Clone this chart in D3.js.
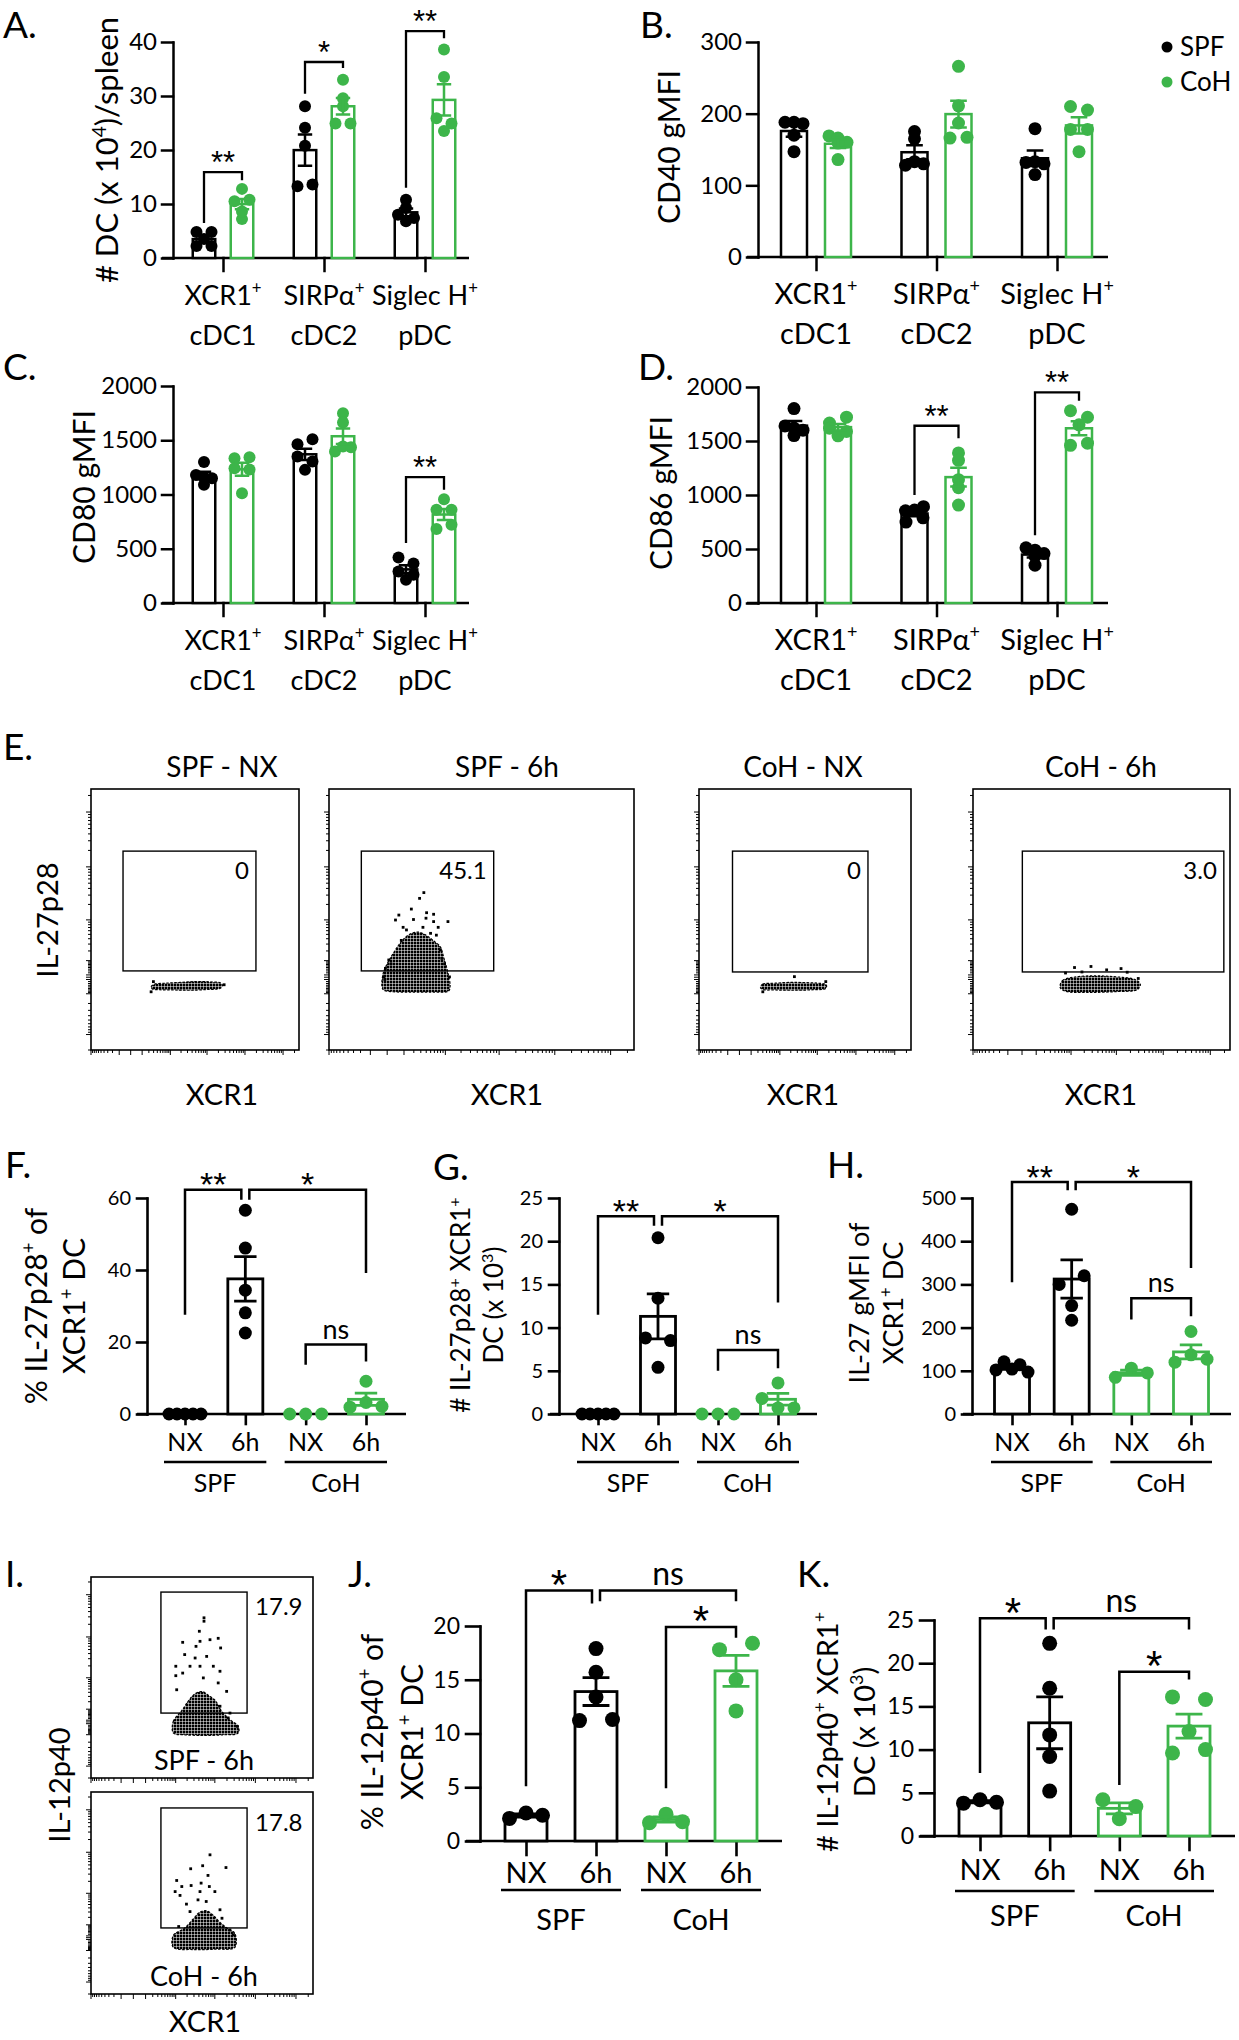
<!DOCTYPE html>
<html><head><meta charset="utf-8">
<script src="https://cdn.jsdelivr.net/npm/d3@7"></script>
<style>
body{margin:0;background:#fff;}
svg{display:block;background:#fff;}
</style></head><body>
<svg id="fig" width="1239" height="2040"></svg>
<script>
// ================= DATA =================
const dcCategoryLine1 = ["XCR1^{+}", "SIRPα^{+}", "Siglec H^{+}"];
const dcCategoryLine2 = ["cDC1", "cDC2", "pDC"];
const mouseGroups = ["SPF", "CoH"];

// A. # DC (x10^4)/spleen
const dcCountSPF = [[4.8,4.8,3.5,2.2,2.2],[28.1,24.1,20.8,13.3,13.6],[10.8,9.3,8.0,6.8,7.4]];
const dcCountCoH = [[12.8,10.5,10.8,7.2,8.6],[33.0,28.1,29.6,24.9,24.9],[38.6,33.5,25.9,24.9,23.5]];
const dcCountTicks = [0,10,20,30,40];
const dcCountSig = [[0,15.9,6.5,14.4,"**"],[1,36.3,30.4,35.2,"*"],[2,42.0,13.0,40.7,"**"]];
// B. CD40 gMFI
const cd40SPF = [[188,188,186,170,147],[175,165,128,133,130],[179,132,133,130,115]];
const cd40CoH = [[169,166,160,159,136],[266,211,187,166,167],[210,205,178,178,147]];
const cd40Ticks = [0,100,200,300];
const cd40Sig = [];
// C. CD80 gMFI
const cd80SPF = [[1300,1180,1160,1150,1090],[1463,1509,1350,1227,1304],[420,365,290,260,215]];
const cd80CoH = [[1334,1343,1242,1230,1012],[1748,1663,1396,1442,1436],[957,859,859,681,721]];
const cd80Ticks = [0,500,1000,1500,2000];
const cd80Sig = [[2,1160,552,1043,"**"]];
// D. CD86 gMFI
const cd86SPF = [[1800,1640,1620,1600,1550],[854,861,892,749,789],[511,489,458,433,350]];
const cd86CoH = [[1666,1721,1619,1548,1588],[1390,1321,1142,1068,907],[1780,1720,1650,1460,1480]];
const cd86Ticks = [0,500,1000,1500,2000];
const cd86Sig = [[1,1641,1000,1526,"**"],[2,1950,628,1873,"**"]];

// F-K timepoint groups
const timeLabels = ["NX","6h","NX","6h"];
const timeMouse = ["SPF","SPF","CoH","CoH"];
const il27PctValues = [[0,0,0,0,0],[56.6,46.1,34.4,28.1,22.5],[0,0,0],[9.1,1.9,3.2,2.1]];
const il27PctTicks = [0,20,40,60];
const il27PctSig = [[0,1,62.3,27.6,59.5,"**"],[1,3,62.3,59.5,39.2,"*"],[2,3,19.3,13.7,14.6,"ns"]];
const il27NumValues = [[0,0,0,0,0],[20.4,13.4,8.8,8.5,5.4],[0,0,0],[3.6,1.8,0.7,0.7]];
const il27NumTicks = [0,5,10,15,20,25];
const il27NumSig = [[0,1,22.9,11.5,21.8,"**"],[1,3,22.9,21.8,12.9,"*"],[2,3,7.4,5.0,5.3,"ns"]];
const il27MfiValues = [[102,121,104,114,97],[474,300,320,251,217],[85,106,95],[191,120,137,127]];
const il27MfiTicks = [0,100,200,300,400,500];
const il27MfiSig = [[0,1,537,305,518,"**"],[1,3,537,518,338,"*"],[2,3,268,219,226,"ns"]];
const il12PctValues = [[2.1,2.6,2.4],[17.9,15.7,13.4,11.2,11.3],[1.7,2.5,1.8],[17.8,18.4,15.0,12.1]];
const il12PctTicks = [0,5,10,15,20];
const il12PctSig = [[0,1,23.3,5.1,22.1,"*"],[1,3,23.3,22.3,22.3,"ns"],[2,3,19.9,4.9,18.9,"*"]];
const il12NumValues = [[3.8,4.2,3.9],[22.3,17.1,11.7,9.2,5.2],[4.2,3.4,2.0],[16.1,15.8,12.1,9.6,10.0]];
const il12NumTicks = [0,5,10,15,20,25];
const il12NumSig = [[0,1,25.2,7.3,23.9,"*"],[1,3,25.2,23.9,23.9,"ns"],[2,3,19.0,5.9,18.1,"*"]];

// E. flow plots (channel units 0-1000 on each axis)
const flowETitles = ["SPF - NX","SPF - 6h","CoH - NX","CoH - 6h"];
const flowEFreq = ["0","45.1","0","3.0"];
const flowEGates = [[154,793,303,762],[106,540,303,762],[158,797,299,762],[192,976,299,762]];
const flowECores = [
 [[289,242],[305,252],[360,256],[430,259],[500,262],[570,261],[625,256],[632,246],[620,236],[560,232],[480,229],[400,230],[330,231],[295,234]],
 [[177,232],[177,290],[193,335],[216,380],[237,415],[260,440],[291,452],[318,440],[341,420],[365,395],[376,355],[389,300],[397,245],[392,226],[338,222],[270,222],[203,224]],
 [[290,240],[300,252],[360,256],[430,259],[500,258],[560,256],[600,250],[598,236],[540,231],[450,229],[360,230],[300,232]],
 [[339,240],[348,266],[400,280],[480,284],[560,280],[630,270],[651,252],[640,232],[560,224],[450,221],[360,225]]
];
const flowEEvents = [
 [[289,223],[640,250],[300,262]],
 [[311,603],[297,581],[229,517],[218,498],[320,526],[343,520],[343,492],[390,492],[254,460],[308,470],[333,447],[365,383],[370,351],[196,345],[185,313],[180,281],[183,270],[203,330],[237,420],[352,440],[379,330],[395,280],[277,500],[318,505],[358,470],[243,470],[270,540]],
 [[301,223],[450,281],[598,262]],
 [[395,316],[459,320],[520,307],[576,312],[424,299],[643,274],[360,295],[600,298]]
];
// I. flow plots
const flowITitles = ["SPF - 6h","CoH - 6h"];
const flowIFreq = ["17.9","17.8"];
const flowIGates = [[315,703,323,925],[315,703,327,921]];
const flowICores = [
 [[371,224],[371,282],[409,335],[440,385],[470,420],[500,430],[530,410],[560,385],[590,330],[626,290],[663,257],[663,224],[600,215],[500,212],[420,215]],
 [[371,231],[371,290],[420,325],[460,370],[490,405],[520,412],[550,390],[580,355],[620,320],[648,300],[648,231],[560,222],[460,220]]
];
const flowIEvents = [
 [[509,797],[509,780],[488,730],[413,675],[473,655],[491,680],[536,688],[573,695],[584,647],[422,614],[469,597],[521,605],[382,556],[382,509],[413,522],[551,556],[581,531],[446,556],[491,556],[506,498],[573,473],[386,439],[611,431],[581,357],[618,299],[659,257],[626,323]],
 [[536,689],[503,635],[449,620],[608,626],[527,587],[386,562],[409,532],[451,537],[496,549],[533,532],[379,507],[401,488],[558,507],[491,507],[430,445],[482,466],[519,458],[581,417],[446,408],[590,375],[395,334],[626,317],[641,293]]
];

// ================= DRAWING =================
const svg = d3.select("#fig");
const WORD = 'Lato,"Open Sans",sans-serif';
const NUM = 'Lato,"Open Sans",sans-serif';
const STAR = '"Liberation Sans",Arial,sans-serif';
const GREEN = "#3db54a";
const colorOf = m => m === "SPF" ? "#000" : GREEN;

const defs = svg.append("defs");
defs.append("pattern").attr("id", "speck").attr("width", 3).attr("height", 3).attr("patternUnits", "userSpaceOnUse")
  .append("rect").attr("width", 2.5).attr("height", 2.5).attr("fill", "#000");

function rich(t, str, fs) {
  const parts = str.split(/(\^\{[^}]*\})/);
  let sup = false;
  parts.forEach(p => {
    if (!p) return;
    const m = p.match(/^\^\{([^}]*)\}$/);
    if (m) { t.append("tspan").attr("dy", -fs*0.4).attr("font-size", fs*0.62).text(m[1]); sup = true; }
    else { const s = t.append("tspan").text(p); if (sup) { s.attr("dy", fs*0.4); sup = false; } }
  });
}
function addText(g, x, y, str, fs, o = {}) {
  const t = g.append("text").attr("x", x).attr("y", y).attr("font-size", fs)
    .attr("font-family", o.family || WORD).attr("text-anchor", o.anchor || "middle").attr("fill", "#000");
  if (o.rotate) t.attr("transform", `rotate(-90,${x},${y})`);
  rich(t, str, fs);
  return t;
}
function meanSem(v) {
  const m = d3.mean(v);
  const sd = v.length > 1 ? d3.deviation(v) : 0;
  return [m, sd / Math.sqrt(v.length)];
}
function swarmOffsets(vals, y, thresh, maxStep, avail) {
  const idx = vals.map((v, i) => i).sort((a, b) => vals[b] - vals[a] || a - b);
  const rows = [];
  idx.forEach(i => {
    const yy = y(vals[i]); const row = rows[rows.length - 1];
    if (row && Math.abs(yy - row.y0) < thresh) row.items.push(i); else rows.push({ y0: yy, items: [i] });
  });
  const off = new Array(vals.length).fill(0);
  rows.forEach(r => {
    const n = r.items.length; if (n < 2) return;
    const step = Math.min(maxStep, avail / (n - 1));
    r.items.sort((a, b) => a - b).forEach((i, j) => off[i] = (j - (n - 1) / 2) * step);
  });
  return off;
}
function drawGroup(g, cx, vals, y, color, o) {
  const [m, se] = meanSem(vals);
  if (m > 0) g.append("rect").attr("x", cx - o.bw / 2).attr("y", y(m)).attr("width", o.bw)
    .attr("height", y(0) - y(m)).attr("fill", "#fff").attr("stroke", color).attr("stroke-width", o.sw);
  const off = swarmOffsets(vals, y, o.thresh, o.maxStep, o.avail);
  g.selectAll(null).data(vals).join("circle").attr("cx", (d, i) => cx + off[i]).attr("cy", d => y(d))
    .attr("r", o.r).attr("fill", color);
  if (se > 0) {
    const cw = o.bw * 0.32;
    g.append("path").attr("d", `M${cx},${y(m - se)}V${y(m + se)}M${cx - cw},${y(m + se)}H${cx + cw}M${cx - cw},${y(m - se)}H${cx + cw}`)
      .attr("stroke", color).attr("stroke-width", o.sw).attr("fill", "none");
  }
}
function bracket(g, x1, x2, y, top, l, r, label, o) {
  g.append("path").attr("d", `M${x1},${y(l)}V${y(top)}H${x2}V${y(r)}`).attr("fill", "none")
    .attr("stroke", "#000").attr("stroke-width", o.bsw);
  const cx = (x1 + x2) / 2;
  if (label === "ns") addText(g, cx, y(top) - 6, "ns", o.nsFs);
  else addText(g, cx, y(top) - o.starGap + 0.58 * o.starFs, label, o.starFs, { family: STAR });
}
function styleAxis(ax, sw, fs) {
  ax.selectAll("path,line").attr("stroke", "#000").attr("stroke-width", sw).attr("stroke-linecap", "square");
  ax.attr("font-size", fs).attr("font-family", NUM);
  ax.selectAll("text").attr("fill", "#000");
}

function dcPanel(c) {
  const g = svg.append("g");
  const y = d3.scaleLinear().domain([0, d3.max(c.ticks)]).range([c.y0, c.yTop]);
  const x = d3.scalePoint().domain(d3.range(dcCategoryLine1.length)).range([c.c0, c.c2]);
  const sx = d3.scalePoint().domain(mouseGroups).range([-c.off, c.off]);
  const ya = g.append("g").attr("transform", `translate(${c.ax},0)`)
    .call(d3.axisLeft(y).tickValues(c.ticks).tickFormat(d3.format("d")).tickSize(11).tickSizeOuter(0).tickPadding(5));
  styleAxis(ya, 2.5, 24);
  g.append("line").attr("x1", c.xs).attr("x2", c.xe).attr("y1", c.y0).attr("y2", c.y0).attr("stroke", "#000").attr("stroke-width", 2.5);
  const xa = g.append("g").attr("transform", `translate(0,${c.y0})`).call(d3.axisBottom(x).tickSize(13).tickFormat(() => ""));
  xa.select(".domain").remove(); styleAxis(xa, 2.5, 24);
  const o = { bw: c.bw, sw: 2.5, r: c.r, thresh: c.r * 1.1, maxStep: c.maxStep, avail: c.avail };
  c.vals.forEach((series, si) => series.forEach((v, ci) => drawGroup(g, x(ci) + sx(mouseGroups[si]), v, y, colorOf(mouseGroups[si]), o)));
  c.sig.forEach(s => bracket(g, x(s[0]) + sx("SPF"), x(s[0]) + sx("CoH"), y, s[1], s[2], s[3], s[4], { bsw: 2.3, starFs: 31, starGap: 17, nsFs: 26 }));
  dcCategoryLine1.forEach((t, i) => { addText(g, x(i), c.y0 + 47, t, c.cfs); addText(g, x(i), c.y0 + 87, dcCategoryLine2[i], c.cfs); });
  addText(g, c.tx, c.ty, c.title, c.tfs, { rotate: true });
}

function timePanel(c) {
  const g = svg.append("g");
  const y = d3.scaleLinear().domain([0, d3.max(c.ticks)]).range([c.y0, c.yTop]);
  const x = d3.scalePoint().domain(d3.range(timeLabels.length)).range([c.g0, c.g3]);
  const ya = g.append("g").attr("transform", `translate(${c.ax},0)`)
    .call(d3.axisLeft(y).tickValues(c.ticks).tickFormat(d3.format("d")).tickSize(c.tick).tickSizeOuter(0).tickPadding(6));
  styleAxis(ya, 2.6, c.tickFs);
  g.append("line").attr("x1", c.xs).attr("x2", c.xe).attr("y1", c.y0).attr("y2", c.y0).attr("stroke", "#000").attr("stroke-width", 2.6);
  const xa = g.append("g").attr("transform", `translate(0,${c.y0})`).call(d3.axisBottom(x).tickSize(c.tick).tickFormat(() => ""));
  xa.select(".domain").remove(); styleAxis(xa, 2.6, 20);
  const o = { bw: c.bw, sw: 2.8, r: c.r, thresh: 2 * c.r, maxStep: c.maxStep, avail: c.avail };
  c.vals.forEach((v, i) => drawGroup(g, x(i), v, y, colorOf(timeMouse[i]), o));
  c.sig.forEach(s => {
    const startsAtJ = c.sig.some(t => t !== s && t[0] === s[1]);
    const endsAtI = c.sig.some(t => t !== s && t[1] === s[0]);
    bracket(g, x(s[0]) + (endsAtI ? 4 : 0), x(s[1]) - (startsAtJ ? 4 : 0), y, s[2], s[3], s[4], s[5],
      { bsw: 2.5, starFs: c.starFs, starGap: c.starGap, nsFs: c.nsFs });
  });
  timeLabels.forEach((t, i) => addText(g, x(i), c.y0 + c.catY, t, c.catFs));
  ["SPF", "CoH"].forEach(m => {
    const idx = d3.range(timeMouse.length).filter(i => timeMouse[i] === m);
    const a = x(idx[0]) - c.ulPad, b = x(idx[idx.length - 1]) + c.ulPad;
    g.append("line").attr("x1", a).attr("x2", b).attr("y1", c.y0 + c.ulY).attr("y2", c.y0 + c.ulY).attr("stroke", "#000").attr("stroke-width", 2.5);
    addText(g, (a + b) / 2, c.y0 + c.grpY, m, c.grpFs);
  });
  addText(g, c.tx1, c.ty, c.title1, c.tfs, { rotate: true });
  addText(g, c.tx2, c.ty, c.title2, c.tfs, { rotate: true });
}

// flow helpers
const flowTickX = d3.scaleSymlog().constant(10).domain([-100, 262144]).range([0, 1000]);
const flowTickY = d3.scaleSymlog().constant(100).domain([-2000, 262144]).range([0, 1000]);
function decadeTicks(lo, hi) {
  const out = [{ v: 0, major: true }];
  for (let e = 1; e <= 5; e++) for (let m = 1; m <= 9; m++) {
    const v = m * Math.pow(10, e);
    if (v <= hi) out.push({ v, major: m === 1 });
    if (-v >= lo) out.push({ v: -v, major: m === 1 });
  }
  return out;
}
function flowPlot(g, box, gate, core, events, freq, fo) {
  const fx = d3.scaleLinear([0, 1000], [box.x0, box.x1]);
  const fy = d3.scaleLinear([0, 1000], [box.y1, box.y0]);
  decadeTicks(-100, 262144).forEach(t => {
    const px = fx(flowTickX(t.v));
    g.append("line").attr("x1", px).attr("x2", px).attr("y1", box.y1).attr("y2", box.y1 + (t.major ? 5 : 3)).attr("stroke", "#000").attr("stroke-width", 1);
  });
  decadeTicks(-2000, 262144).forEach(t => {
    const py = fy(flowTickY(t.v));
    g.append("line").attr("x1", box.x0).attr("x2", box.x0 - (t.major ? 5 : 3)).attr("y1", py).attr("y2", py).attr("stroke", "#000").attr("stroke-width", 1);
  });
  g.append("path").datum(core).attr("d", d3.line().x(d => fx(d[0])).y(d => fy(d[1])).curve(d3.curveCatmullRomClosed))
    .attr("fill", "url(#speck)").attr("stroke", "#000").attr("stroke-width", 1.2).attr("stroke-dasharray", "2.5 1.5");
  g.selectAll(null).data(events).join("rect").attr("x", d => fx(d[0]) - 1.4).attr("y", d => fy(d[1]) - 1.4)
    .attr("width", 2.8).attr("height", 2.8).attr("fill", "#000");
  g.append("rect").attr("x", fx(gate[0])).attr("y", fy(gate[3])).attr("width", fx(gate[1]) - fx(gate[0]))
    .attr("height", fy(gate[2]) - fy(gate[3])).attr("fill", "none").attr("stroke", "#000").attr("stroke-width", 1.4);
  g.append("rect").attr("x", box.x0).attr("y", box.y0).attr("width", box.x1 - box.x0).attr("height", box.y1 - box.y0)
    .attr("fill", "none").attr("stroke", "#000").attr("stroke-width", 1.6);
  if (fo.inside) addText(g, fx(gate[1]) - 7, fy(gate[3]) + 28, freq, 24, { anchor: "end", family: NUM });
  else addText(g, fx(gate[1]) + 8, fy(gate[3]) + 23, freq, 24, { anchor: "start", family: NUM });
}

// ---- Panel letters
[["A.",3,38],["B.",640,38],["C.",3,380],["D.",638,380],["E.",3,760],["F.",5,1178],["G.",433,1180],["H.",827,1178],["I.",5,1587],["J.",348,1587],["K.",797,1587]]
  .forEach(d => addText(svg, d[1], d[2], d[0], 37, { anchor: "start" }));

// ---- A-D
const acCommon = { xs: 162, xe: 469, ax: 173, c0: 223, c2: 425, off: 19, bw: 22.5, r: 6, maxStep: 15, avail: 16, tfs: 30, cfs: 27 };
const bdCommon = { xs: 747, xe: 1108, ax: 758, c0: 816, c2: 1057, off: 22, bw: 26, r: 6.5, maxStep: 17, avail: 18, tfs: 30, cfs: 29 };
dcPanel(Object.assign({}, acCommon, { vals: [dcCountSPF, dcCountCoH], ticks: dcCountTicks, sig: dcCountSig, y0: 258, yTop: 42, title: "# DC (x 10^{4})/spleen", tx: 118, ty: 150, tfs: 31 }));
dcPanel(Object.assign({}, bdCommon, { vals: [cd40SPF, cd40CoH], ticks: cd40Ticks, sig: cd40Sig, y0: 257, yTop: 42, title: "CD40 gMFI", tx: 680, ty: 147 }));
dcPanel(Object.assign({}, acCommon, { vals: [cd80SPF, cd80CoH], ticks: cd80Ticks, sig: cd80Sig, y0: 603, yTop: 386, title: "CD80 gMFI", tx: 95, ty: 487 }));
dcPanel(Object.assign({}, bdCommon, { vals: [cd86SPF, cd86CoH], ticks: cd86Ticks, sig: cd86Sig, y0: 603, yTop: 387, title: "CD86 gMFI", tx: 672, ty: 493 }));

// legend
mouseGroups.forEach((m, i) => {
  const yy = 47 + i * 35;
  svg.append("circle").attr("cx", 1167).attr("cy", yy).attr("r", 5.5).attr("fill", colorOf(m));
  addText(svg, 1180, yy + 9, m, 26, { anchor: "start" });
});

// ---- E
const eBoxes = [{ x0: 91, x1: 299, tx: 222 }, { x0: 329, x1: 634, tx: 507 }, { x0: 699, x1: 911, tx: 803 }, { x0: 973, x1: 1230, tx: 1101 }];
eBoxes.forEach((b, i) => {
  const box = { x0: b.x0, x1: b.x1, y0: 789, y1: 1050 };
  const g = svg.append("g");
  flowPlot(g, box, flowEGates[i], flowECores[i], flowEEvents[i], flowEFreq[i], { inside: true });
  addText(g, b.tx, 777, flowETitles[i], 28);
  addText(g, b.tx, 1105, "XCR1", 29);
});
addText(svg, 58, 920, "IL-27p28", 29, { rotate: true });

// ---- F, G, H
const fghCommon = { y0: 1414, yTop: 1198, bw: 35, r: 6.5, maxStep: 25, avail: 32, tick: 10, tickFs: 20, catFs: 25, catY: 37, ulY: 48, grpY: 78, grpFs: 25, ulPad: 21, starFs: 34, starGap: 13, nsFs: 27 };
timePanel(Object.assign({}, fghCommon, { vals: il27PctValues, ticks: il27PctTicks, sig: il27PctSig, ax: 147, xs: 137, xe: 406, g0: 185, g3: 366, title1: "% IL-27p28^{+} of", title2: "XCR1^{+} DC", tx1: 47, tx2: 85, ty: 1306, tfs: 30 }));
timePanel(Object.assign({}, fghCommon, { vals: il27NumValues, ticks: il27NumTicks, sig: il27NumSig, ax: 559, xs: 550, xe: 817, g0: 598, g3: 778, title1: "# IL-27p28^{+} XCR1^{+}", title2: "DC (x 10^{3})", tx1: 470, tx2: 503, ty: 1305, tfs: 26 }));
timePanel(Object.assign({}, fghCommon, { vals: il27MfiValues, ticks: il27MfiTicks, sig: il27MfiSig, ax: 972, xs: 963, xe: 1231, g0: 1012, g3: 1191, title1: "IL-27 gMFI of", title2: "XCR1^{+} DC", tx1: 869, tx2: 903, ty: 1303, tfs: 27 }));

// ---- I
[{ y0: 1577, y1: 1778 }, { y0: 1792, y1: 1994 }].forEach((b, i) => {
  const box = { x0: 91, x1: 313, y0: b.y0, y1: b.y1 };
  const g = svg.append("g");
  flowPlot(g, box, flowIGates[i], flowICores[i], flowIEvents[i], flowIFreq[i], { inside: false });
  addText(g, 204, b.y1 - 8, flowITitles[i], 27);
});
addText(svg, 70, 1785, "IL-12p40", 29, { rotate: true });
addText(svg, 205, 2032, "XCR1", 29);

// ---- J, K
const jkCommon = { bw: 42, r: 7.5, maxStep: 33, avail: 33, tick: 14, tickFs: 23, catFs: 29, grpFs: 29, ulPad: 25, starFs: 42, starGap: 16, nsFs: 32 };
timePanel(Object.assign({}, jkCommon, { vals: il12PctValues, ticks: il12PctTicks, sig: il12PctSig, ax: 480, y0: 1841, yTop: 1626, xs: 466, xe: 782, g0: 526, g3: 736, catY: 42, ulY: 49, grpY: 89, title1: "% IL-12p40^{+} of", title2: "XCR1^{+} DC", tx1: 383, tx2: 423, ty: 1732, tfs: 30 }));
timePanel(Object.assign({}, jkCommon, { vals: il12NumValues, ticks: il12NumTicks, sig: il12NumSig, ax: 934, y0: 1836, yTop: 1620, xs: 920, xe: 1235, g0: 980, g3: 1189, catY: 44, ulY: 55, grpY: 90, title1: "# IL-12p40^{+} XCR1^{+}", title2: "DC (x 10^{3})", tx1: 838, tx2: 875, ty: 1732, tfs: 29 }));
</script>
</body></html>
